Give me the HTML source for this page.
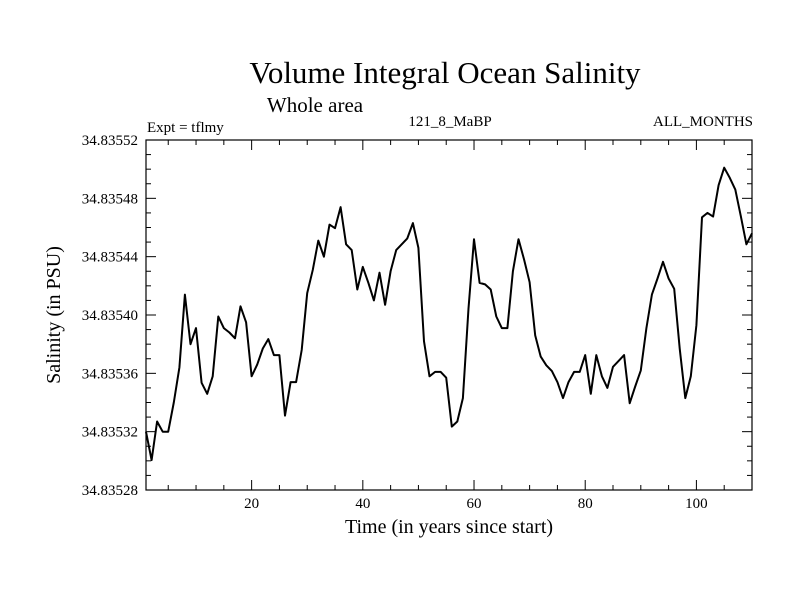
<!DOCTYPE html>
<html><head><meta charset="utf-8"><style>
html,body{margin:0;padding:0;background:#fff;}
svg{display:block;font-family:"Liberation Serif",serif;}
</style></head><body>
<svg id="chart" width="800" height="600" viewBox="0 0 800 600" xmlns="http://www.w3.org/2000/svg">
<text x="445" y="83" font-size="31" text-anchor="middle">Volume Integral Ocean Salinity</text>
<text x="315" y="112" font-size="21" text-anchor="middle">Whole area</text>
<text x="147" y="132" font-size="15">Expt = tflmy</text>
<text x="450" y="126" font-size="15" text-anchor="middle">121_8_MaBP</text>
<text x="753" y="126" font-size="15" text-anchor="end">ALL_MONTHS</text>
<text x="449" y="533" font-size="20" text-anchor="middle">Time (in years since start)</text>
<text x="0" y="0" font-size="20" text-anchor="middle" transform="translate(60,315) rotate(-90)">Salinity (in PSU)</text>
<g id="axes"></g>
<g id="series"></g>
<rect x="146" y="140" width="606" height="350" fill="none" stroke="#000" stroke-width="1.2"/>
</svg>
<script>
const years = [];
for (let i = 1; i <= 110; i++) years.push(i);
const salinity = [32.0,30.05,32.7,32.0,32.0,34.0,36.4,41.4,38.0,39.1,
35.35,34.6,35.8,39.9,39.1,38.8,38.4,40.6,39.5,35.8,
36.6,37.7,38.35,37.25,37.25,33.1,35.4,35.4,37.6,41.5,
43.1,45.1,44.0,46.2,45.95,47.4,44.85,44.45,41.75,43.3,
42.2,41.0,42.9,40.7,43.0,44.45,44.85,45.25,46.3,44.6,
38.2,35.8,36.1,36.1,35.7,32.35,32.7,34.3,40.45,45.2,
42.2,42.1,41.75,39.9,39.1,39.1,43.0,45.2,43.8,42.25,
38.6,37.15,36.55,36.15,35.4,34.3,35.4,36.1,36.1,37.25,
34.6,37.25,35.8,35.0,36.45,36.85,37.25,33.95,35.1,36.2,
39.1,41.4,42.5,43.65,42.5,41.8,37.7,34.3,35.8,39.3,
46.7,47.0,46.75,48.9,50.1,49.4,48.6,46.75,44.85,45.6];
const xTicks = [20,40,60,80,100];
const yTicks = [28,32,36,40,44,48,52];
const yTickLabels = ["34.83528","34.83532","34.83536","34.83540","34.83544","34.83548","34.83552"];

const X0=146,X1=752,Y0=490,Y1=140, xMin=1,xMax=110,yMin=28,yMax=52;
function sx(v){return X0+(v-xMin)/(xMax-xMin)*(X1-X0);}
function sy(v){return Y0-(v-yMin)/(yMax-yMin)*(Y0-Y1);}
const NS="http://www.w3.org/2000/svg";
const axes=document.getElementById('axes');
function line(x1,y1,x2,y2,name){
  const l=document.createElementNS(NS,'line');
  l.setAttribute('x1',x1);l.setAttribute('y1',y1);l.setAttribute('x2',x2);l.setAttribute('y2',y2);
  l.setAttribute('stroke','#000');l.setAttribute('stroke-width','1');
  
  
  axes.appendChild(l);
}
for(let v=5; v<=xMax; v+=5){
  const major = v%20===0, len = major?10:5, x=sx(v);
  line(x,Y0,x,Y0-len,'x-tick');
  line(x,Y1,x,Y1+len,'x-tick-top');
}
for(let v=yMin; v<=yMax; v+=1){
  const major=(v-yMin)%4===0, len=major?10:5, y=sy(v);
  line(X0,y,X0+len,y,'y-tick');
  line(X1,y,X1-len,y,'y-tick-right');
}
xTicks.forEach(v=>{
  const t=document.createElementNS(NS,'text');
  t.setAttribute('x',sx(v));t.setAttribute('y',508);t.setAttribute('font-size','15');t.setAttribute('text-anchor','middle');
  t.textContent=v;
  
  
  axes.appendChild(t);
});
yTicks.forEach((v,i)=>{
  const t=document.createElementNS(NS,'text');
  t.setAttribute('x',138);t.setAttribute('y',sy(v)+5);t.setAttribute('font-size','15');t.setAttribute('text-anchor','end');
  t.textContent=yTickLabels[i];
  
  
  axes.appendChild(t);
});
const p=document.createElementNS(NS,'polyline');
p.setAttribute('points',years.map((yr,i)=>sx(yr).toFixed(1)+','+sy(salinity[i]).toFixed(1)).join(' '));
p.setAttribute('fill','none');p.setAttribute('stroke','#000');p.setAttribute('stroke-width','2');p.setAttribute('stroke-linejoin','round');


document.getElementById('series').appendChild(p);
</script>
</body></html>
